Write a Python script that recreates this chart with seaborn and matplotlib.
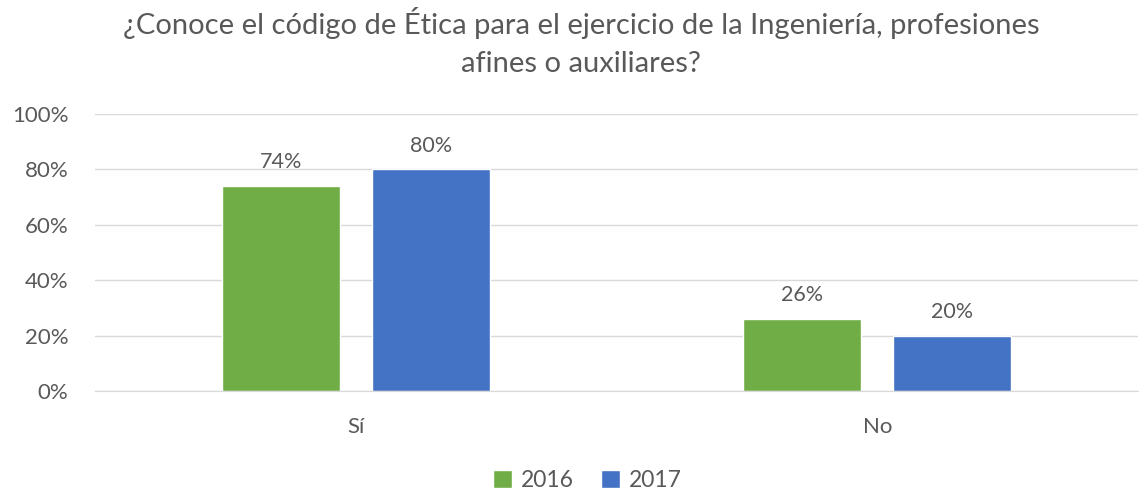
import matplotlib.pyplot as plt
import pandas as pd
import seaborn as sns
from matplotlib.ticker import PercentFormatter

categorias = ["Sí", "No"]
anios = ["2016", "2017"]
valores_2016 = [74, 26]
valores_2017 = [80, 20]

colores = ["#70AD47", "#4472C4"]
gris = "#595959"

df = pd.DataFrame({
    "Respuesta": categorias * 2,
    "Año": [anios[0]] * 2 + [anios[1]] * 2,
    "Porcentaje": valores_2016 + valores_2017,
})

sns.set_style("white")
plt.rcParams["font.family"] = ["Lato", "DejaVu Sans"]

fig = plt.figure(figsize=(11.44, 4.98), dpi=100)
ax = fig.add_axes([0.083, 0.215, 0.912, 0.556])

sns.barplot(
    data=df, x="Respuesta", y="Porcentaje", hue="Año",
    palette=colores, width=0.575, gap=0.213, ax=ax, saturation=1,
)

for cont in ax.containers:
    ax.bar_label(cont, labels=[f"{v:.0f}%" for v in cont.datavalues],
                 padding=10, fontsize=15.5, color=gris)

ax.set_ylim(0, 100)
ax.set_xlim(-0.5, 1.5)
ax.yaxis.set_major_formatter(PercentFormatter(decimals=0))
ax.set_yticks(range(0, 101, 20))
ax.grid(axis="y", color="#D9D9D9", linewidth=1)
ax.set_axisbelow(True)
for s in ["top", "right", "left"]:
    ax.spines[s].set_visible(False)
ax.spines["bottom"].set_color("#D9D9D9")
ax.tick_params(axis="both", length=0, labelsize=16, colors=gris)
ax.tick_params(axis="x", pad=19)
ax.tick_params(axis="y", pad=19)
ax.set_xlabel("")
ax.set_ylabel("")

fig.suptitle("¿Conoce el código de Ética para el ejercicio de la Ingeniería, profesiones\nafines o auxiliares?",
             x=0.508, y=0.985, fontsize=21, color=gris, linespacing=1.55)

ax.legend(loc="upper center", bbox_to_anchor=(0.472, -0.21), ncol=2, frameon=False,
          fontsize=16.5, labelcolor=gris, handlelength=0.8, handleheight=0.8,
          columnspacing=1.2, handletextpad=0.4)

fig.savefig("out.png", dpi=100)
